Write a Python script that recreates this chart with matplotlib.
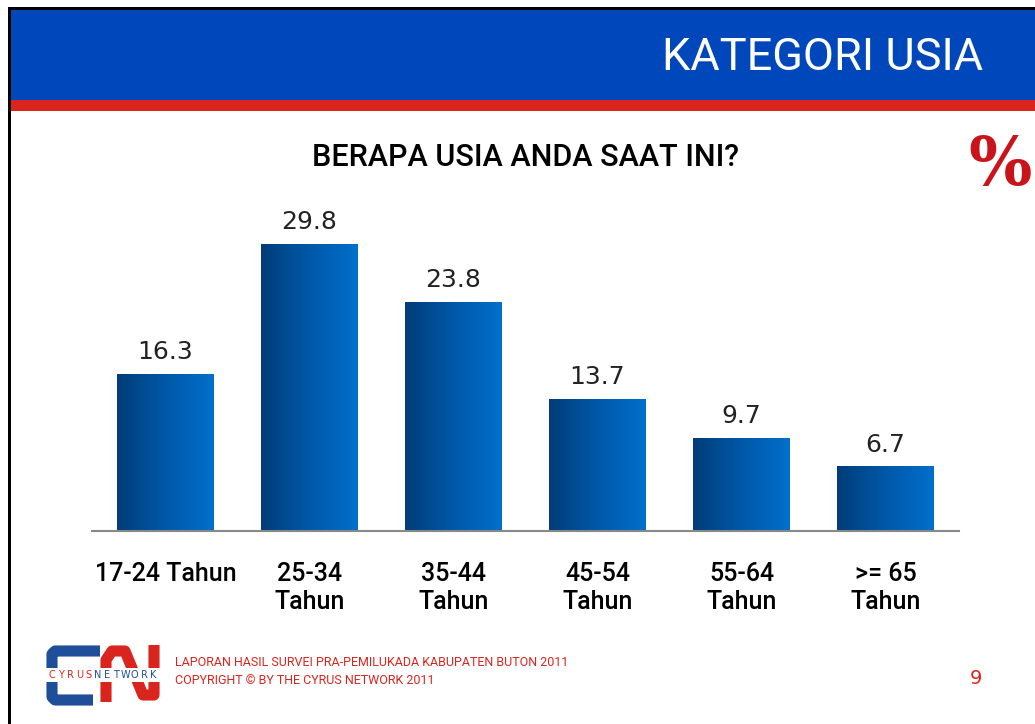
import numpy as np
import matplotlib.pyplot as plt
from matplotlib.colors import LinearSegmentedColormap
from matplotlib.patches import Rectangle

# Data
categories = ["17-24 Tahun", "25-34\nTahun", "35-44\nTahun", "45-54\nTahun", "55-64\nTahun", ">= 65\nTahun"]
values = [16.3, 29.8, 23.8, 13.7, 9.7, 6.7]

W, H = 1035, 724
BLUE = "#0047BB"
RED = "#D9251D"
LOGO_BLUE = "#1F4E9A"

fig = plt.figure(figsize=(W / 100, H / 100), dpi=100)

# Background layer in pixel coordinates
bg = fig.add_axes([0, 0, 1, 1])
bg.set_xlim(0, W)
bg.set_ylim(H, 0)
bg.axis("off")

# Frame and header
bg.add_patch(Rectangle((8, 7), W, 3, color="black", lw=0))
bg.add_patch(Rectangle((8, 7), 2.5, H, color="black", lw=0))
bg.add_patch(Rectangle((10.5, 10), W, 90, color=BLUE, lw=0))
bg.add_patch(Rectangle((10.5, 100), W, 11, color=RED, lw=0))
bg.text(983, 58, "KATEGORI USIA", color="white", fontsize=32.5,
        family="Roboto", ha="right", va="center")

# Title and percent sign
bg.text(525, 158, "BERAPA USIA ANDA SAAT INI?", fontsize=22,
        family="Roboto", weight="medium", ha="center", va="center")
bg.text(1000, 167, "%", color="#C8141A", fontsize=48, weight="bold",
        family="DejaVu Serif", ha="center", va="center")

# Logo
bg.plot([100, 55, 52, 52, 55, 93], [651, 651, 654, 697, 700, 700],
        color=LOGO_BLUE, lw=8, solid_joinstyle="round", solid_capstyle="butt")
bg.plot([106, 106, 112, 125, 143, 154, 154], [702, 660, 651, 651, 695, 695, 645],
        color=RED, lw=8, solid_joinstyle="round", solid_capstyle="butt")
bg.add_patch(Rectangle((46, 668), 116, 14, color="white", lw=0, zorder=3))
for i, ch in enumerate("CYRUSNETWORK"):
    bg.text(52 + i * 9.2, 675, ch, color=RED if i < 5 else LOGO_BLUE,
            fontsize=7, va="center", ha="center", zorder=4)

# Footer
bg.text(175, 663, "LAPORAN HASIL SURVEI PRA-PEMILUKADA KABUPATEN BUTON 2011",
        color=RED, fontsize=9, va="center", ha="left", family="Roboto")
bg.text(175, 680, "COPYRIGHT © BY THE CYRUS NETWORK 2011",
        color=RED, fontsize=9, va="center", ha="left", family="Roboto")
bg.text(976, 678, "9", color=RED, fontsize=14, va="center", ha="center")

# Chart axes: left 92px, right 959px, bottom 531px, top 200px
ax = fig.add_axes([92 / W, 1 - 531 / H, (959 - 92) / W, (531 - 200) / H])
ax.patch.set_alpha(0)
x = np.arange(len(values))
bars = ax.bar(x, values, width=0.67, color="none")

cmap = LinearSegmentedColormap.from_list("bar", ["#003C78", "#0058A8", "#0070CC"])
grad = np.linspace(0, 1, 256).reshape(1, -1)
for b, v in zip(bars, values):
    x0, w = b.get_x(), b.get_width()
    im = ax.imshow(grad, extent=[x0, x0 + w, 0, v], aspect="auto", cmap=cmap,
                   origin="lower", zorder=2)
    im.set_clip_path(b)
    ax.text(x0 + w / 2, v + 1.0, f"{v:.1f}", ha="center", va="bottom",
            fontsize=18, color="#222222")
ax.set_ylim(0, 331 / 9.63)
ax.set_xlim(-0.51, 5.51)

for s in ["top", "right", "left"]:
    ax.spines[s].set_visible(False)
ax.spines["bottom"].set_color("#888888")
ax.spines["bottom"].set_linewidth(1.5)
ax.spines["bottom"].set_zorder(3)
ax.set_yticks([])
ax.set_xticks(x)
ax.set_xticklabels(categories, fontsize=18, family="Roboto", weight="medium",
                   linespacing=1.25, va="top")
ax.tick_params(axis="x", length=0, pad=22)

fig.savefig("out.png", dpi=100)
